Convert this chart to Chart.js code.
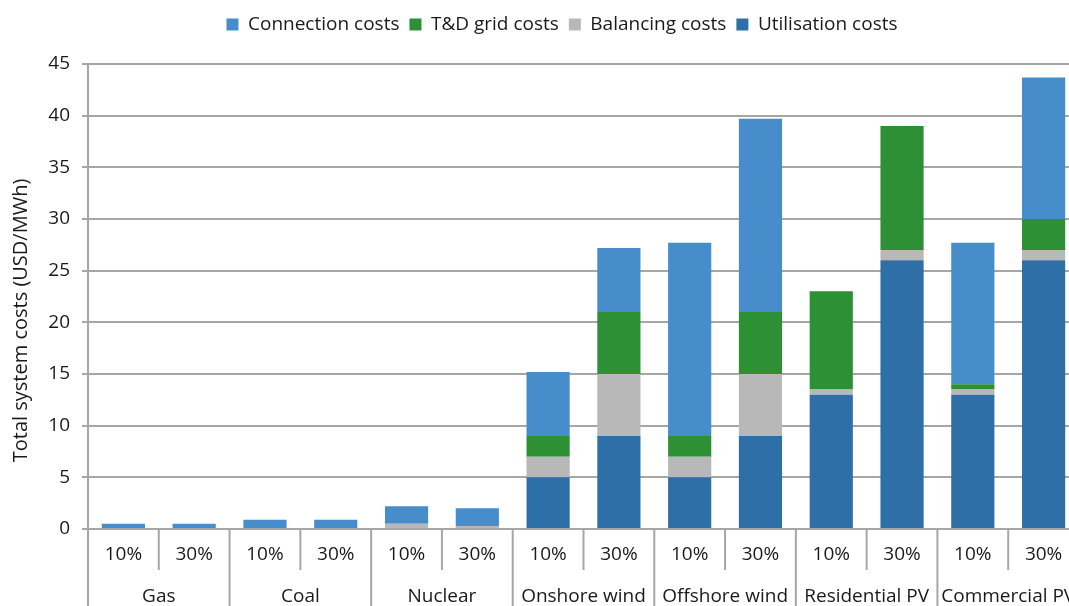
<!DOCTYPE html>
<html>
<head>
<meta charset="utf-8">
<script src="https://cdn.jsdelivr.net/npm/chart.js@4"></script>
<style>
  html, body { margin: 0; padding: 0; background: #fff; overflow: hidden; }
  #wrap { width: 1124px; height: 606px; position: relative; }
</style>
</head>
<body>
<div id="wrap"><canvas id="chart"></canvas></div>
<script>
// categories and values
const shares = ['10%', '30%', '10%', '30%', '10%', '30%', '10%', '30%', '10%', '30%', '10%', '30%', '10%', '30%'];
const technologies = ['Gas', 'Coal', 'Nuclear', 'Onshore wind', 'Offshore wind', 'Residential PV', 'Commercial PV'];

const utilisation = [0, 0, 0, 0, 0, 0, 5, 9, 5, 9, 13, 26, 13, 26];
const balancing   = [0, 0, 0, 0, 0.5, 0.3, 2, 6, 2, 6, 0.5, 1, 0.5, 1];
const tdGrid      = [0, 0, 0, 0, 0, 0, 2, 6, 2, 6, 9.5, 12, 0.5, 3];
const connection  = [0.5, 0.5, 0.9, 0.9, 1.7, 1.7, 6.2, 6.2, 18.7, 18.7, 0, 0, 13.7, 13.7];

const yTicks = [0, 5, 10, 15, 20, 25, 30, 35, 40, 45];
const yTitle = 'Total system costs (USD/MWh)';

const textColor = '#1a1a1a';
const lineColor = '#a6a6a6';
const fontFamily = '"Open Sans", sans-serif';
const fontSize = 19;

// extra room under the legend
const legendGap = {
    id: 'legendGap',
    beforeInit(chart) {
        const fit = chart.legend.fit;
        chart.legend.fit = function () {
            fit.bind(chart.legend)();
            this.height += 20;
        };
    }
};

// y title sits a little below the middle of the axis in the original
const yAxisTitle = {
    id: 'yAxisTitle',
    afterDraw(chart) {
        const area = chart.chartArea;
        const ctx = chart.ctx;
        ctx.save();
        ctx.translate(21, (area.top + area.bottom) / 2 + 24);
        ctx.rotate(-Math.PI / 2);
        ctx.fillStyle = textColor;
        ctx.font = '20px ' + fontFamily;
        ctx.textAlign = 'center';
        ctx.textBaseline = 'middle';
        ctx.fillText(yTitle, 0, 0);
        ctx.restore();
    }
};

// two-row category axis with separators
const groupAxis = {
    id: 'groupAxis',
    afterDraw(chart) {
        const x = chart.scales.x;
        const ctx = chart.ctx;
        const top = chart.chartArea.bottom;
        const step = x.getPixelForValue(1) - x.getPixelForValue(0);
        ctx.save();
        ctx.strokeStyle = lineColor;
        ctx.lineWidth = 2;
        ctx.fillStyle = textColor;
        ctx.font = fontSize + 'px ' + fontFamily;
        ctx.textAlign = 'center';
        ctx.textBaseline = 'middle';
        shares.forEach((s, i) => {
            const c = x.getPixelForValue(i);
            ctx.fillText(s, c, top + 26);
            const edge = c - step / 2;
            ctx.beginPath();
            ctx.moveTo(edge, top);
            ctx.lineTo(edge, i % 2 === 0 ? chart.height : top + 41);
            ctx.stroke();
        });
        const last = x.getPixelForValue(shares.length - 1) + step / 2;
        ctx.beginPath();
        ctx.moveTo(last, top);
        ctx.lineTo(last, chart.height);
        ctx.stroke();
        technologies.forEach((t, g) => {
            const c = (x.getPixelForValue(g * 2) + x.getPixelForValue(g * 2 + 1)) / 2;
            ctx.fillText(t, c, top + 68);
        });
        ctx.restore();
    }
};

const ctx = document.getElementById('chart').getContext('2d');

new Chart(ctx, {
    type: 'bar',
    data: {
        labels: shares,
        datasets: [
            { label: 'Utilisation costs', data: utilisation, backgroundColor: '#2e6fa7' },
            { label: 'Balancing costs', data: balancing, backgroundColor: '#b8b8b8' },
            { label: 'T&D grid costs', data: tdGrid, backgroundColor: '#2e9035' },
            { label: 'Connection costs', data: connection, backgroundColor: '#478dcb' }
        ]
    },
    options: {
        responsive: true,
        maintainAspectRatio: false,
        animation: false,
        layout: { padding: { top: 5, bottom: 0, left: 0, right: 0 } },
        datasets: {
            bar: { barPercentage: 0.61, categoryPercentage: 1 }
        },
        scales: {
            x: {
                stacked: true,
                grid: { display: false },
                border: { display: false },
                ticks: { display: false },
                afterFit: s => { s.height = 77; }
            },
            y: {
                stacked: true,
                min: 0,
                max: 45,
                afterBuildTicks: s => { s.ticks = yTicks.map(v => ({ value: v })); },
                ticks: {
                    font: { family: fontFamily, size: fontSize },
                    color: textColor,
                    padding: 12
                },
                grid: { color: lineColor, lineWidth: 2, tickLength: 6 },
                border: { color: lineColor, width: 2 },
                afterFit: s => { s.width = 88; }
            },
            spacer: {
                position: 'right',
                display: true,
                grid: { display: false },
                border: { display: false },
                ticks: { display: false },
                afterFit: s => { s.width = 45; }
            }
        },
        plugins: {
            legend: {
                position: 'top',
                reverse: true,
                labels: {
                    boxWidth: 12,
                    boxHeight: 12,
                    padding: 10,
                    color: textColor,
                    font: { family: fontFamily, size: fontSize }
                }
            },
            tooltip: { enabled: false }
        }
    },
    plugins: [legendGap, yAxisTitle, groupAxis]
});
</script>
</body>
</html>
